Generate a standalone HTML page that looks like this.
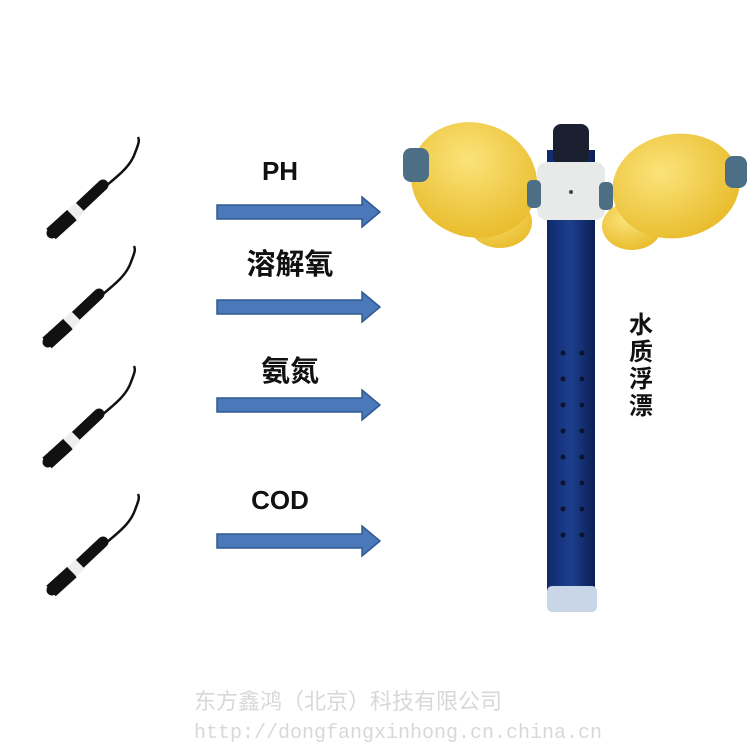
<!DOCTYPE html><html><head><meta charset="utf-8"><style>body{margin:0;background:#fff}svg{display:block}</style></head><body>
<svg width="756" height="756" viewBox="0 0 756 756" xmlns="http://www.w3.org/2000/svg">
<defs>
<g id="probe">
<path d="M100,188 C115,175 130,165 135,150 C138,142 140,138 138,134" stroke="#111" stroke-width="2.5" fill="none"/>
<line x1="52" y1="230" x2="103" y2="182" stroke="#111" stroke-width="11" stroke-linecap="round"/>
<line x1="51" y1="231" x2="72" y2="212" stroke="#111" stroke-width="14"/>
<line x1="72" y1="212" x2="80" y2="204" stroke="#eee" stroke-width="13"/>
</g>
<g id="arrow"><polygon points="217,-7 362,-7 362,-15 380,0 362,15 362,7 217,7" fill="#4a78b8" stroke="#2e5a90" stroke-width="1.5"/></g>
<radialGradient id="y" cx="0.4" cy="0.35" r="0.7"><stop offset="0" stop-color="#fbe37a"/><stop offset="1" stop-color="#e8bb2a"/></radialGradient>
<linearGradient id="p" x1="0" x2="1"><stop offset="0" stop-color="#0f2a6a"/><stop offset="0.5" stop-color="#1d3f8e"/><stop offset="1" stop-color="#0b1f52"/></linearGradient>
</defs>
<use href="#probe" transform="translate(0,3)"/>
<use href="#probe" transform="translate(-4,112)"/>
<use href="#probe" transform="translate(-4,232)"/>
<use href="#probe" transform="translate(0,360)"/>
<use href="#arrow" transform="translate(0,212)"/>
<use href="#arrow" transform="translate(0,307)"/>
<use href="#arrow" transform="translate(0,405)"/>
<use href="#arrow" transform="translate(0,541)"/>
<g font-family="Liberation Sans, Noto Sans CJK SC, sans-serif" fill="#111">
<text x="280" y="180" font-size="26" font-weight="bold" text-anchor="middle">PH</text>
<text x="290" y="274" font-size="29" font-weight="bold" text-anchor="middle">溶解氧</text>
<text x="290" y="381" font-size="29" font-weight="bold" text-anchor="middle">氨氮</text>
<text x="280" y="509" font-size="26" font-weight="bold" text-anchor="middle">COD</text>
<g font-size="24" font-weight="bold" text-anchor="middle"><text x="641" y="333">水</text><text x="641" y="360">质</text><text x="641" y="387">浮</text><text x="641" y="414">漂</text></g>
</g>
<rect x="547" y="150" width="48" height="450" fill="url(#p)"/>
<g fill="#0a1430">
<circle cx="563" cy="353" r="2.5"/><circle cx="582" cy="353" r="2.5"/><circle cx="563" cy="379" r="2.5"/><circle cx="582" cy="379" r="2.5"/>
<circle cx="563" cy="405" r="2.5"/><circle cx="582" cy="405" r="2.5"/><circle cx="563" cy="431" r="2.5"/><circle cx="582" cy="431" r="2.5"/>
<circle cx="563" cy="457" r="2.5"/><circle cx="582" cy="457" r="2.5"/><circle cx="563" cy="483" r="2.5"/><circle cx="582" cy="483" r="2.5"/>
<circle cx="563" cy="509" r="2.5"/><circle cx="582" cy="509" r="2.5"/><circle cx="563" cy="535" r="2.5"/><circle cx="582" cy="535" r="2.5"/>
</g>
<rect x="547" y="586" width="50" height="26" rx="5" fill="#c8d6e8"/>
<ellipse cx="500" cy="222" rx="32" ry="26" fill="url(#y)"/>
<ellipse cx="632" cy="226" rx="30" ry="24" fill="url(#y)"/>
<ellipse cx="474" cy="180" rx="64" ry="57" transform="rotate(20 474 180)" fill="url(#y)"/>
<ellipse cx="676" cy="186" rx="64" ry="52" transform="rotate(-10 676 186)" fill="url(#y)"/>
<rect x="553" y="124" width="36" height="40" rx="8" fill="#1a2030"/>
<rect x="537" y="162" width="68" height="58" rx="10" fill="#e8eaea"/>
<circle cx="571" cy="192" r="2" fill="#444"/>
<rect x="403" y="148" width="26" height="34" rx="8" fill="#4d6f86"/>
<rect x="725" y="156" width="22" height="32" rx="8" fill="#4d6f86"/>
<rect x="527" y="180" width="14" height="28" rx="5" fill="#4d6f86"/>
<rect x="599" y="182" width="14" height="28" rx="5" fill="#4d6f86"/>
<g font-family="Liberation Sans, Noto Sans CJK SC, sans-serif" fill="#d8d8d8">
<text x="348" y="709" font-size="22" text-anchor="middle">东方鑫鸿（北京）科技有限公司</text>
<text x="398" y="738" font-size="20" font-family="Liberation Mono, monospace" text-anchor="middle">http://dongfangxinhong.cn.china.cn</text>
</g>
</svg>
</body></html>
